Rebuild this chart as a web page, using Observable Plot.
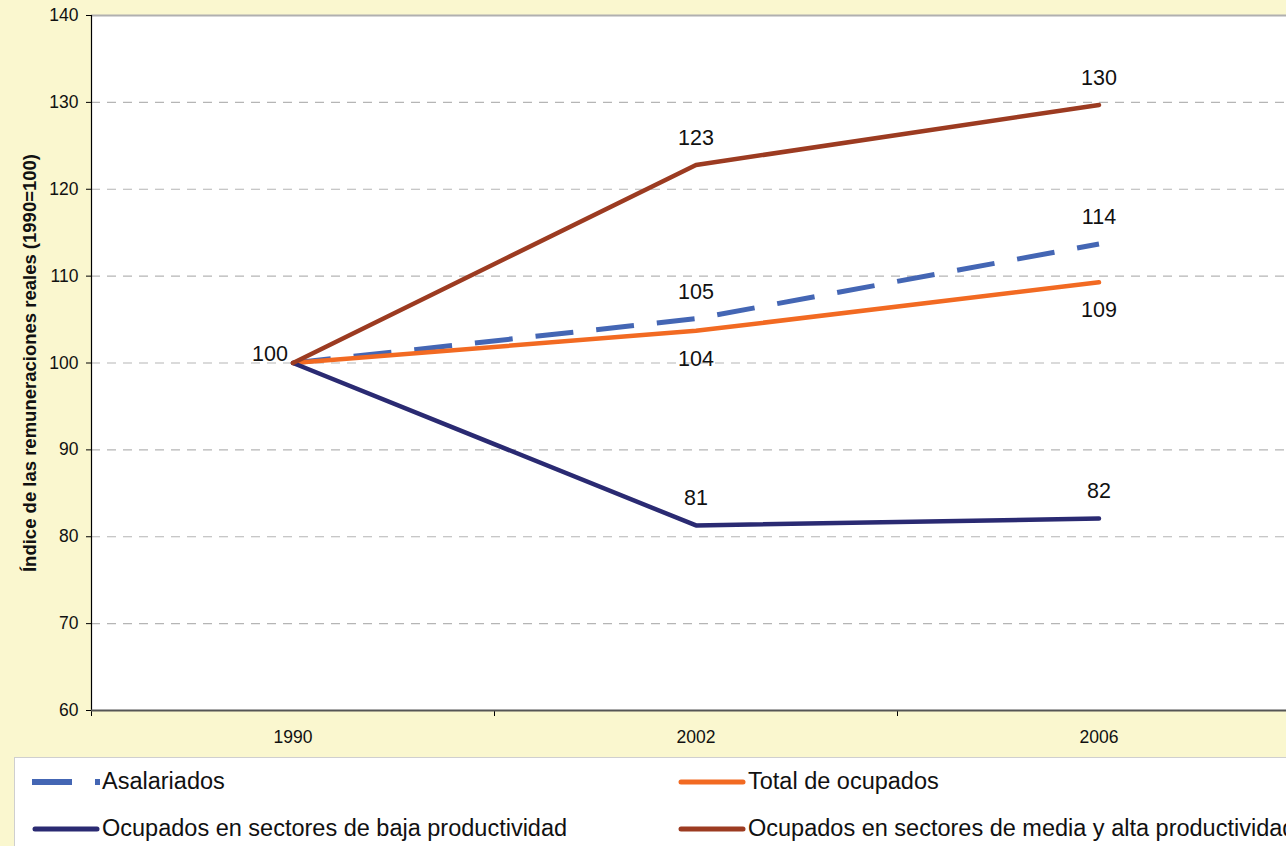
<!DOCTYPE html>
<html>
<head>
<meta charset="utf-8">
<script src="https://cdn.jsdelivr.net/npm/d3@7"></script>
<script src="https://cdn.jsdelivr.net/npm/@observablehq/plot@0.6"></script>
<style>
  html, body { margin: 0; padding: 0; background: #FAF7CF; overflow: hidden; }
  body { width: 1286px; height: 846px; font-family: "Liberation Sans", Arial, sans-serif; }
  #chart svg { display: block; }
  #legend {
    position: absolute; left: 14px; top: 757px; width: 1290px; height: 100px;
    background: #fff; border: 1px solid #cfcfcf; box-sizing: border-box;
    display: grid; grid-template-columns: 646px auto; grid-auto-rows: 47px;
    padding-left: 17px; padding-top: 0px; font-size: 23.5px; color: #111;
  }
  .item { display: flex; align-items: center; white-space: nowrap; }
  .item svg { flex: none; margin-right: 2px; }
</style>
</head>
<body>
<div id="chart"></div>
<div id="legend"></div>
<script>
const years = ["1990", "2002", "2006"];
const seriesNames = [
  "Asalariados",
  "Total de ocupados",
  "Ocupados en sectores de baja productividad",
  "Ocupados en sectores de media y alta productividad"
];
const asalariados = [100, 105.1, 113.7];
const totalOcupados = [100, 103.7, 109.3];
const bajaProd = [100, 81.3, 82.1];
const mediaAltaProd = [100, 122.8, 129.7];
const seriesColors = ["#4466B4", "#F26A22", "#2A2A72", "#9C3B21"];
const labelSide = ["above", "below", "above", "above"];
const yTicks = [60, 70, 80, 90, 100, 110, 120, 130, 140];
const yLabel = "Índice de las remuneraciones reales (1990=100)";

const valuesBySeries = [asalariados, totalOcupados, bajaProd, mediaAltaProd];
const rows = [];
seriesNames.forEach((s, si) => {
  valuesBySeries[si].forEach((v, i) => {
    rows.push({series: s, si, i, x: i + 0.5, year: years[i], value: v, side: labelSide[si]});
  });
});

const lineFor = (si, opts) => Plot.line(rows.filter(d => d.si === si), {
  x: "x", y: "value", stroke: seriesColors[si], strokeWidth: 4.5, strokeLinejoin: "miter", ...opts
});

const chart = Plot.plot({
  width: 1286,
  height: 750,
  marginLeft: 91,
  marginTop: 15,
  marginBottom: 40,
  marginRight: 0,
  style: {background: "transparent", fontFamily: "Liberation Sans, Arial, sans-serif", color: "#111"},
  x: {domain: [0, years.length], range: [91, 1300]},
  y: {domain: [yTicks[0], yTicks[yTicks.length - 1]]},
  marks: [
    Plot.frame({fill: "white", stroke: null}),
    Plot.gridY(yTicks.slice(1, -1), {stroke: "#b5b5b5", strokeOpacity: 1, strokeDasharray: "9,7", strokeWidth: 1.2}),
    Plot.ruleY([yTicks[yTicks.length - 1]], {stroke: "#b0b0b0", strokeWidth: 2}),
    Plot.axisY(yTicks, {tickSize: 5, tickPadding: 8, fontSize: 17.5, label: null, stroke: "#000"}),
    Plot.text([yLabel], {frameAnchor: "left", textAnchor: "middle", rotate: -90, dx: -61, fontSize: 18.5, fontWeight: "bold", fill: "#111"}),
    Plot.axisX(d3.range(years.length + 1), {tickSize: 6, tickFormat: () => "", label: null, stroke: "#000"}),
    Plot.axisX(years.map((_, i) => i + 0.5), {tickSize: 0, tickPadding: 20, fontSize: 17.5, label: null, tickFormat: d => years[Math.round(d - 0.5)]}),
    Plot.ruleX([0], {stroke: "#000", strokeWidth: 1.2}),
    Plot.ruleY([yTicks[0]], {stroke: "#555", strokeWidth: 2}),
    lineFor(0, {strokeDasharray: "38,23", strokeWidth: 5, strokeLinecap: "butt"}),
    lineFor(1, {}),
    lineFor(2, {}),
    lineFor(3, {}),
    Plot.text(rows.filter(d => d.i > 0 && d.side === "above"), {
      x: "x", y: "value", text: d => d3.format(".0f")(d.value), dy: -27, fontSize: 21.5, fill: "#111"
    }),
    Plot.text(rows.filter(d => d.i > 0 && d.side === "below"), {
      x: "x", y: "value", text: d => d3.format(".0f")(d.value), dy: 28, fontSize: 21.5, fill: "#111"
    }),
    Plot.text(rows.filter(d => d.i === 0 && d.si === 0), {
      x: "x", y: "value", text: d => d3.format(".0f")(d.value), dx: -23, dy: -9, fontSize: 21.5, fill: "#111"
    })
  ]
});
document.getElementById("chart").appendChild(chart);

// Legend (row-major, two columns, as in the reference)
const legend = document.getElementById("legend");
[0, 1, 2, 3].forEach(si => {
  const item = document.createElement("div");
  item.className = "item";
  const dash = si === 0 ? 'stroke-dasharray="40,23" stroke-linecap="butt"' : 'stroke-linecap="round"';
  item.innerHTML = `<svg width="68" height="10"><line x1="${si === 0 ? 0 : 3}" y1="5" x2="${si === 0 ? 68 : 65}" y2="5" stroke="${seriesColors[si]}" stroke-width="${si === 0 ? 6 : 5}" ${dash}/></svg><span>${seriesNames[si]}</span>`;
  legend.appendChild(item);
});
</script>
</body>
</html>
